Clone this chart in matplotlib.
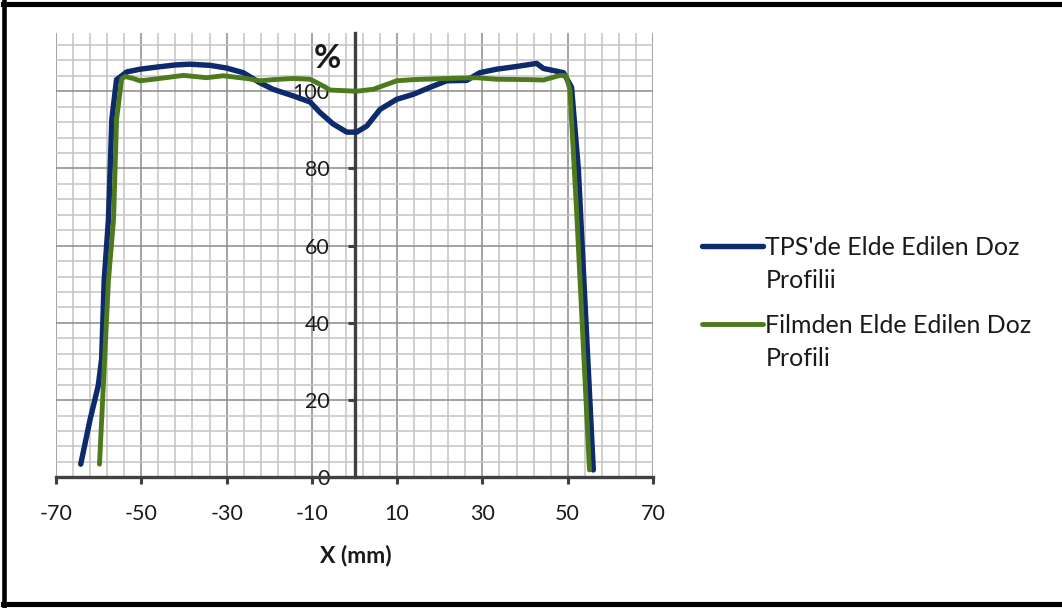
import matplotlib
matplotlib.use("Agg")
import matplotlib.pyplot as plt
from matplotlib.lines import Line2D
import numpy as np

plt.rcParams['font.family'] = ['Lato', 'DejaVu Sans']
plt.rcParams['axes.unicode_minus'] = False

# Dose profile from the treatment planning system
tps_x = [-64.2, -62.0, -60.1, -59.3, -58.7, -57.7, -56.9, -55.8, -53.4, -50.3,
         -46.0, -42.0, -38.6, -33.9, -30.0, -26.1, -22.2, -19.1, -14.4, -10.4,
         -8.1, -5.0, -1.8, 0.5, 2.9, 6.0, 9.9, 13.8, 17.7, 21.6,
         26.3, 29.4, 33.3, 38.0, 42.7, 44.3, 49.0, 50.9, 52.5, 56.0]
tps_y = [3.4, 15.0, 23.7, 30.6, 51.0, 66.8, 92.8, 103.0, 105.0, 105.7,
         106.3, 106.8, 107.0, 106.7, 106.0, 104.8, 102.2, 100.5, 98.8, 97.2,
         94.5, 91.5, 89.4, 89.4, 91.0, 95.3, 97.9, 99.2, 101.0, 102.7,
         102.8, 104.8, 105.7, 106.4, 107.2, 105.9, 104.8, 101.0, 79.7, 1.9]

# Dose profile measured on film
film_x = [-59.8, -57.7, -56.5, -55.8, -54.6, -53.8, -51.9, -50.3, -46.4, -40.1,
          -34.7, -30.8, -25.3, -22.2, -19.0, -14.4, -10.4, -8.1, -5.7, 0.5,
          4.4, 9.9, 13.8, 21.6, 28.6, 33.3, 41.0, 44.3, 48.2, 49.6,
          50.5, 52.1, 55.1]
film_y = [3.4, 51.0, 66.8, 92.7, 103.2, 103.8, 103.3, 102.7, 103.2, 104.1,
          103.5, 104.0, 103.3, 102.7, 103.0, 103.3, 103.1, 101.8, 100.3, 100.0,
          100.5, 102.7, 103.0, 103.3, 103.5, 103.1, 103.0, 102.9, 104.1, 104.0,
          100.5, 68.6, 1.9]

# legend labels: first line goes with the handle, second line wraps below
label_line1 = ["TPS'de Elde Edilen Doz", "Filmden Elde Edilen Doz"]
label_line2 = ["Profilii", "Profili"]
colors = ["#0c2a6c", "#4c7a1d"]

x_ticks = [-70, -50, -30, -10, 10, 30, 50, 70]
y_ticks = [0, 20, 40, 60, 80, 100]

W, H = 1062, 608
fig = plt.figure(figsize=(W / 100, H / 100), dpi=100)
ax = fig.add_axes([56 / W, 1 - 477.3 / H, (653 - 56) / W, (477.3 - 33.3) / H])

ax.plot(tps_x, tps_y, color=colors[0], lw=3.9, label=label_line1[0], zorder=3,
        solid_capstyle='round', solid_joinstyle='round')
ax.plot(film_x, film_y, color=colors[1], lw=3.5, label=label_line1[1], zorder=3,
        solid_capstyle='round', solid_joinstyle='round')

ax.set_xlim(-70, 70)
ax.set_ylim(0, 115)

ax.set_xticks(x_ticks)
ax.set_xticks(np.arange(-70, 71, 4), minor=True)
ax.set_yticks(y_ticks)
ax.set_yticks(np.arange(0, 113, 4), minor=True)

ax.grid(which='minor', color='#c4c4c4', lw=1.1)
ax.grid(which='major', color='#8a8a8a', lw=1.1)
ax.set_axisbelow(True)

for s in ['top', 'right']:
    ax.spines[s].set_visible(False)
ax.spines['left'].set_position(('data', 0))
ax.spines['bottom'].set_position(('data', 0))
for s in ['left', 'bottom']:
    ax.spines[s].set_color('#404040')
    ax.spines[s].set_linewidth(2.4)

ax.tick_params(which='minor', length=0)
ax.tick_params(axis='y', which='major', direction='out', length=5, width=2.2,
               color='#404040', pad=13, labelsize=15.5, labelcolor='#1a1a1a')
ax.tick_params(axis='x', which='major', direction='out', length=5, width=2.2,
               color='#404040', pad=14, labelsize=15.5, labelcolor='#1a1a1a')

ax.text(-6.4, 108.6, '%', ha='center', va='center', fontsize=24,
        fontweight='bold', color='#1a1a1a')
fig.text(356 / W, 1 - 556 / H, 'X (mm)', ha='center', va='center',
         fontsize=16.5, fontweight='bold', color='#1a1a1a')

leg = ax.legend(loc='upper left', bbox_to_anchor=(702 / W, 1 - 236 / H),
                bbox_transform=fig.transFigure, frameon=False, fontsize=18,
                handlelength=2.45, handletextpad=0.08, labelspacing=2.2,
                borderpad=0, borderaxespad=0)
for t in leg.get_texts():
    t.set_color('#1a1a1a')

# wrap the second line of each legend label under the first one
fig.canvas.draw()
for t, extra in zip(leg.get_texts(), label_line2):
    bb = t.get_window_extent()
    yc = (bb.y0 + bb.y1) / 2 - 33
    fig.text(bb.x0 / W, yc / H, extra, ha='left', va='center', fontsize=18,
             color='#1a1a1a')

# figure frame (open on the right side)
fw = 3.3
fig.add_artist(Line2D([4.3 / W, 4.3 / W], [1 - 1 / H, 1 - 606 / H], lw=fw,
                      color='black', transform=fig.transFigure))
fig.add_artist(Line2D([2.6 / W, 1.0], [1 - 3.5 / H, 1 - 3.5 / H], lw=fw + 0.4,
                      color='black', transform=fig.transFigure))
fig.add_artist(Line2D([2.6 / W, 1.0], [1 - 604 / H, 1 - 604 / H], lw=fw + 0.4,
                      color='black', transform=fig.transFigure))

fig.savefig('out.png', dpi=100)
